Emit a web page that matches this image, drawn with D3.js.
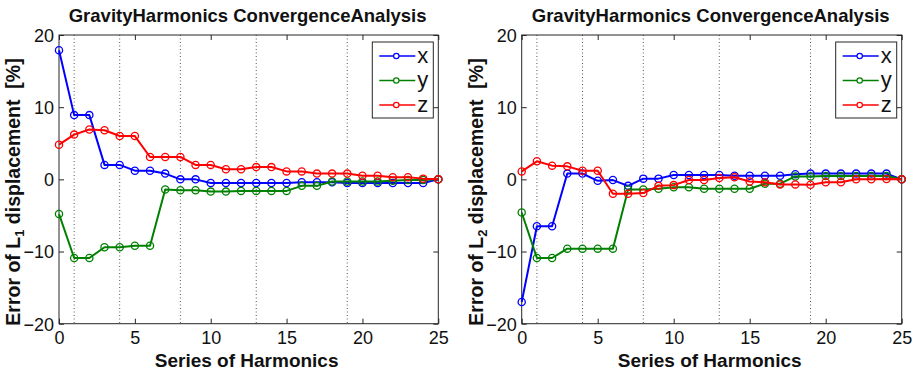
<!DOCTYPE html>
<html>
<head>
<meta charset="utf-8">
<script src="https://cdn.jsdelivr.net/npm/d3@7"></script>
<style>
  html, body { margin: 0; padding: 0; background: #fff; }
  svg { display: block; font-family: "Liberation Sans", Arial, sans-serif; }
</style>
</head>
<body>
<svg id="chart" width="915" height="376"></svg>
<script>
// Harmonic series index (x axis)
const harmonics = [0, 1, 2, 3, 4, 5, 6, 7, 8, 9, 10, 11, 12, 13, 14, 15, 16, 17, 18, 19, 20, 21, 22, 23, 24, 25];

// L1 displacement error [%]
const l1X = [17.9, 8.9, 8.9, 2.0, 2.0, 1.2, 1.2, 0.8, 0.0, 0.0, -0.5, -0.5, -0.5, -0.5, -0.5, -0.5, -0.4, -0.4, -0.4, -0.5, -0.5, -0.5, -0.5, -0.5, -0.5, 0];
const l1Y = [-4.8, -10.9, -10.9, -9.4, -9.4, -9.2, -9.2, -1.4, -1.5, -1.5, -1.7, -1.7, -1.6, -1.6, -1.6, -1.6, -0.9, -0.9, -0.3, -0.3, -0.3, -0.3, -0.2, -0.1, -0.1, 0];
const l1Z = [4.8, 6.2, 6.9, 6.8, 6.0, 6.0, 3.1, 3.1, 3.1, 2.0, 2.0, 1.4, 1.4, 1.7, 1.7, 1.1, 1.1, 0.8, 0.8, 0.8, 0.5, 0.5, 0.3, 0.3, 0.1, 0];

// L2 displacement error [%]
const l2X = [-17.0, -6.5, -6.5, 0.8, 0.8, -0.2, -0.1, -0.9, 0.1, 0.1, 0.6, 0.6, 0.6, 0.6, 0.5, 0.5, 0.5, 0.5, 0.7, 0.8, 0.8, 0.8, 0.8, 0.8, 0.8, 0];
const l2Y = [-4.6, -10.9, -10.9, -9.6, -9.6, -9.6, -9.6, -1.4, -1.4, -1.3, -1.1, -1.1, -1.3, -1.3, -1.3, -1.3, -0.6, -0.6, 0.4, 0.4, 0.45, 0.45, 0.45, 0.45, 0.45, 0];
const l2Z = [1.1, 2.5, 1.9, 1.8, 1.2, 1.2, -2.0, -2.0, -1.9, -0.9, -0.8, -0.1, -0.1, 0.2, 0.3, -0.3, -0.4, -0.7, -0.7, -0.75, -0.4, -0.4, 0.0, 0.0, 0.05, 0];

// Reference harmonic orders marked with dotted lines
const markerOrders = [1, 4, 8, 13, 19];

const xTicks = [0, 5, 10, 15, 20, 25];
const yTicks = [-20, -10, 0, 10, 20];
const seriesNames = ["x", "y", "z"];
const seriesColors = ["#0000ff", "#008000", "#ff0000"];
const titleText = "GravityHarmonics ConvergenceAnalysis";
const xLabelText = "Series of Harmonics";

const svg = d3.select("#chart");

function drawPanel(left, right, sub, series) {
  const top = 35, bottom = 323.7;
  const x = d3.scaleLinear().domain([0, 25]).range([left, right]);
  const y = d3.scaleLinear().domain([-20, 20]).range([bottom, top]);
  const g = svg.append("g");
  const axisColor = "#262626";

  // dotted vertical markers
  g.selectAll("line.mark").data(markerOrders).join("line")
    .attr("x1", d => x(d)).attr("x2", d => x(d))
    .attr("y1", top).attr("y2", bottom)
    .attr("stroke", "#555").attr("stroke-width", 1)
    .attr("stroke-dasharray", "1,2.5");

  // frame
  g.append("rect").attr("x", left).attr("y", top)
    .attr("width", right - left).attr("height", bottom - top)
    .attr("fill", "none").attr("stroke", axisColor).attr("stroke-width", 1);

  const tl = 5;
  // x ticks (bottom and top, inward)
  const bx = d3.axisBottom(x).tickValues(xTicks).tickSizeInner(-tl).tickSizeOuter(0).tickPadding(9);
  const gb = g.append("g").attr("transform", `translate(0,${bottom})`).call(bx);
  const tx = d3.axisTop(x).tickValues(xTicks).tickSizeInner(-tl).tickSizeOuter(0).tickFormat("");
  const gt = g.append("g").attr("transform", `translate(0,${top})`).call(tx);
  // y ticks (left and right, inward)
  const ly = d3.axisLeft(y).tickValues(yTicks).tickSizeInner(-tl).tickSizeOuter(0).tickPadding(5);
  const gl = g.append("g").attr("transform", `translate(${left},0)`).call(ly);
  const ry = d3.axisRight(y).tickValues(yTicks).tickSizeInner(-tl).tickSizeOuter(0).tickFormat("");
  const gr = g.append("g").attr("transform", `translate(${right},0)`).call(ry);
  [gb, gt, gl, gr].forEach(a => {
    a.select(".domain").remove();
    a.selectAll(".tick line").attr("stroke", axisColor);
    a.selectAll(".tick text").attr("fill", "#111").style("font-size", "18px")
      .style("font-family", "'Liberation Sans', Arial, sans-serif");
  });
  gb.selectAll(".tick text").attr("dy", "0.71em").attr("y", 8);
  gl.selectAll(".tick text").attr("dy", "0.35em");

  // series lines and circle markers
  series.forEach((vals, i) => {
    const pts = harmonics.map((h, k) => [h, vals[k]]);
    g.append("path").datum(pts)
      .attr("fill", "none").attr("stroke", seriesColors[i]).attr("stroke-width", 2)
      .attr("stroke-linejoin", "round")
      .attr("d", d3.line().x(d => x(d[0])).y(d => y(d[1])));
    g.selectAll(null).data(pts).join("circle")
      .attr("cx", d => x(d[0])).attr("cy", d => y(d[1])).attr("r", 3.6)
      .attr("fill", "none").attr("stroke", seriesColors[i]).attr("stroke-width", 1.3);
  });

  // legend
  const lgW = 61, lgH = 76;
  const lgX = right - 5 - lgW, lgY = top + 7;
  const lg = g.append("g");
  lg.append("rect").attr("x", lgX).attr("y", lgY).attr("width", lgW).attr("height", lgH)
    .attr("fill", "#fff").attr("stroke", axisColor).attr("stroke-width", 1);
  seriesNames.forEach((name, i) => {
    const cy = lgY + 14 + i * 24.5;
    lg.append("line").attr("x1", lgX + 7).attr("x2", lgX + 43).attr("y1", cy).attr("y2", cy)
      .attr("stroke", seriesColors[i]).attr("stroke-width", 1.5);
    lg.append("circle").attr("cx", lgX + 24).attr("cy", cy).attr("r", 2.7)
      .attr("fill", "#fff").attr("stroke", seriesColors[i]).attr("stroke-width", 1.2);
    lg.append("text").attr("x", lgX + 45).attr("y", cy).attr("dy", "0.3em")
      .style("font-size", "22px").attr("fill", "#111").text(name);
  });

  // title
  g.append("text").attr("x", (left + right) / 2 - 1).attr("y", 22)
    .attr("text-anchor", "middle").style("font-size", "18.5px").style("font-weight", "bold")
    .attr("fill", "#111").text(titleText);

  // x label
  g.append("text").attr("x", (left + right) / 2 - 2).attr("y", 367)
    .attr("text-anchor", "middle").style("font-size", "19px").style("font-weight", "bold")
    .attr("fill", "#111").text(xLabelText);

  // y label with subscript
  const yl = g.append("text")
    .attr("transform", `translate(${left - 39},${192}) rotate(-90)`)
    .attr("text-anchor", "middle").style("font-size", "19.5px").style("font-weight", "bold")
    .attr("fill", "#111");
  yl.append("tspan").text("Error of L");
  yl.append("tspan").attr("dy", 4).style("font-size", "13px").text(sub);
  yl.append("tspan").attr("dy", -4).text(" displacement  [%]").attr("xml:space", "preserve");
}

drawPanel(59, 438.3, "1", [l1X, l1Y, l1Z]);
drawPanel(521.7, 901.7, "2", [l2X, l2Y, l2Z]);
</script>
</body>
</html>
